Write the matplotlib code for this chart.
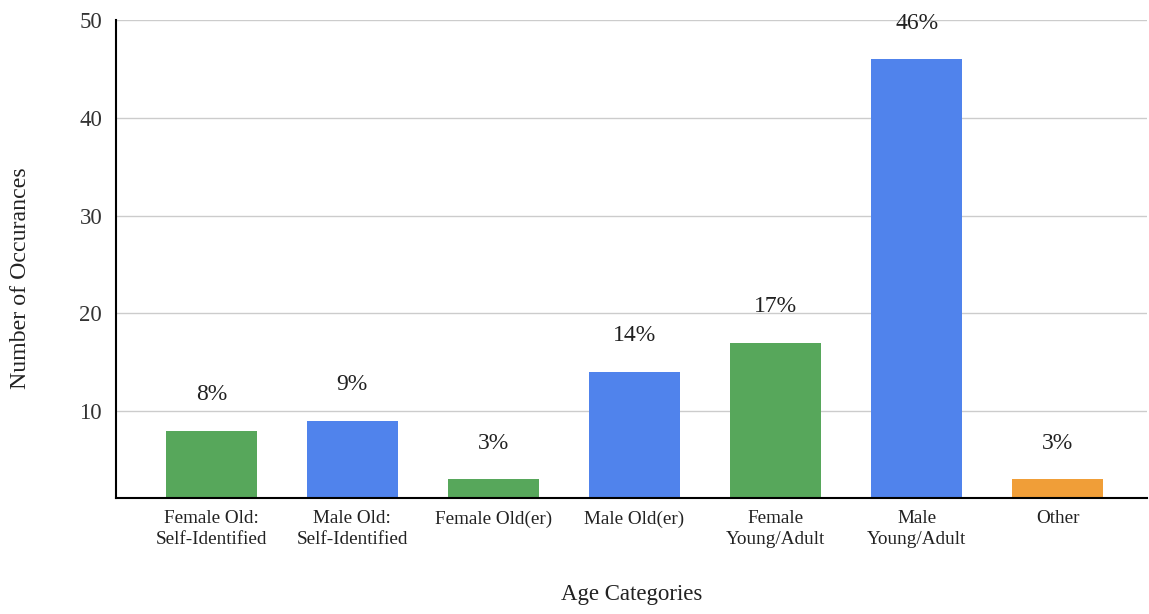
import matplotlib
matplotlib.use("Agg")
import matplotlib.pyplot as plt

categories = ["Female Old:\nSelf-Identified", "Male Old:\nSelf-Identified", "Female Old(er)",
              "Male Old(er)", "Female\nYoung/Adult", "Male\nYoung/Adult", "Other"]
counts = [8, 9, 3, 14, 17, 46, 3]
pct_labels = ["8%", "9%", "3%", "14%", "17%", "46%", "3%"]
bar_colors = ["#57a75b", "#5083ec", "#57a75b", "#5083ec", "#57a75b", "#5083ec", "#f09e38"]
yticks = [10, 20, 30, 40, 50]

plt.rcParams['font.family'] = ['Liberation Serif', 'DejaVu Serif']

fig = plt.figure(figsize=(11.49, 6.14), dpi=100)
ax = fig.add_axes([0.101, 0.189, 0.897, 0.778])

x = list(range(len(categories)))
bars = ax.bar(x, counts, width=0.645, color=bar_colors, zorder=3)
for xi, c, lab in zip(x, counts, pct_labels):
    ax.annotate(lab, (xi, c), xytext=(0, 26), textcoords="offset points",
                ha="center", va="center", fontsize=17, color="#222222")

ax.set_xlim(-0.675, 6.63)
ax.set_ylim(1.1, 50)
ax.set_yticks(yticks)
ax.set_yticklabels([str(v) for v in yticks], fontsize=16.5, color="#333333")
ax.set_xticks(x)
ax.set_xticklabels(categories, fontsize=13.8, color="#222222", linespacing=1.3)
ax.tick_params(axis="both", length=0)
ax.tick_params(axis="y", pad=10)
ax.tick_params(axis="x", pad=9)

ax.grid(axis="y", color="#cccccc", linewidth=1, zorder=0)
for s in ["top", "right"]:
    ax.spines[s].set_visible(False)
for s in ["left", "bottom"]:
    ax.spines[s].set_linewidth(1.5)
    ax.spines[s].set_color("black")
    ax.spines[s].set_zorder(4)

ax.set_ylabel("Number of Occurances", fontsize=17.2, color="#222222")
ax.yaxis.set_label_coords(-0.083, 0.46)
ax.set_xlabel("Age Categories", fontsize=16.5, color="#222222", labelpad=26)

fig.savefig("out.png", dpi=100)
